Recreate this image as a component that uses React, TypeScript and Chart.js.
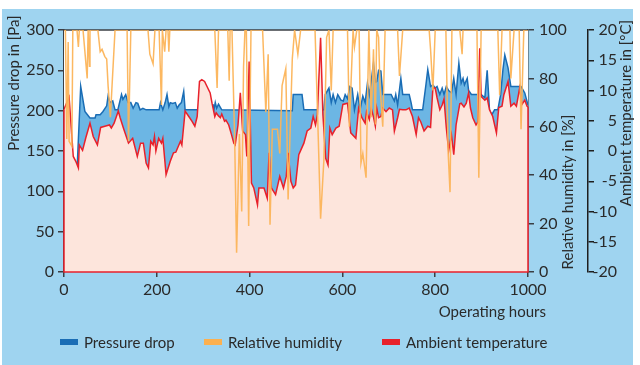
import React, { useEffect, useRef } from "react";
import { Chart, registerables } from "chart.js";

Chart.register(...registerables);

// ---------- data ----------
const seriesNames = ["Pressure drop", "Relative humidity", "Ambient temperature"];
const xTitle = "Operating hours";
const yPressureTitle = "Pressure drop in [Pa]";
const yHumidityTitle = "Relative humidity in [%]";
const yTemperatureTitle = "Ambient temperature in [°C]";

const pressureHours = [
  0, 28, 36, 45, 56, 67, 69, 78, 84, 92, 95, 99, 105, 110, 116, 124, 127, 133, 138, 144,
  149, 155, 159, 164, 170, 177, 190, 205, 208, 213, 218, 222, 226, 229, 234, 240, 244, 248, 253, 258,
  261, 319, 321, 323, 326, 329, 333, 336, 340, 492, 494, 513, 517, 560, 563, 571, 576, 580, 585, 590,
  597, 602, 606, 611, 616, 621, 626, 633, 638, 644, 649, 654, 658, 662, 667, 671, 674, 678, 683, 687,
  694, 705, 712, 715, 719, 726, 730, 744, 748, 751, 773, 780, 784, 790, 795, 800, 804, 810, 815, 819,
  824, 829, 835, 840, 845, 851, 856, 860, 863, 869, 872, 878, 892, 899, 907, 912, 917, 922, 928, 935,
  941, 946, 950, 957, 963, 978, 985, 993, 1000,
];
const pressureValues = [
  140, 125, 230, 199, 191, 191, 195, 195, 199, 206, 218, 210, 212, 201, 201, 220, 214, 220, 210, 210,
  203, 210, 209, 201, 203, 201, 201, 201, 210, 201, 210, 220, 205, 210, 209, 210, 203, 207, 210, 224,
  201, 201, 208, 201, 210, 203, 208, 205, 201, 200, 220, 220, 201, 201, 220, 228, 210, 220, 210, 220,
  213, 212, 220, 215, 230, 228, 201, 220, 201, 218, 210, 234, 220, 236, 259, 235, 236, 250, 249, 220,
  220, 220, 212, 220, 207, 240, 220, 220, 210, 201, 201, 232, 251, 230, 232, 228, 230, 220, 228, 220,
  230, 225, 222, 240, 220, 259, 234, 240, 232, 240, 225, 220, 220, 220, 216, 250, 201, 195, 201, 201,
  220, 251, 269, 253, 230, 230, 230, 222, 207,
];

const humidityHours = [
  0, 3, 6, 9, 11, 17, 19,
  28, 31, 33,
  41, 50, 52, 55, 56,
  73, 78, 82, 88, 92, 95, 100, 103, 110,
  136, 139, 144,
  181, 185, 192, 196,
  205, 210, 212, 217, 220, 224, 226, 228,
  325, 330, 333,
  353, 356, 358,
  362, 368, 372, 378, 383, 387, 390,
  393, 398, 403,
  428, 435, 440, 444, 449, 460, 465, 470, 478, 483, 492, 497, 504, 510,
  541, 547, 553, 560, 566, 571, 576, 580,
  611, 615, 623, 626, 631,
  636, 640, 644, 651, 657, 662, 667, 671, 674, 678, 681, 687, 692,
  719, 723, 730,
  787, 790, 795, 800,
  823, 828, 832, 836,
  853, 858, 860,
  890, 894, 899,
  935, 939, 944,
  961, 963, 970,
  981, 985, 991, 1000,
];
const humidityValues = [
  100, 100, 55, 95, 54, 52, 100,
  100, 93, 100,
  100, 80, 100, 85, 100,
  100, 91, 92, 89, 88, 77, 64, 75, 100,
  100, 54, 100,
  100, 90, 86, 100,
  100, 69, 100, 91, 100, 100, 91, 100,
  100, 76, 100,
  100, 79, 100,
  100, 53, 8, 57, 25, 85, 100,
  100, 19, 100,
  100, 66, 90, 19.5, 59, 59, 49, 77, 84, 30, 88, 100, 90, 100,
  100, 62, 22, 46, 97, 100, 75, 100,
  100, 60, 100, 93, 100,
  100, 45, 49, 39, 100, 64, 92, 61, 100, 97, 77, 60, 100,
  100, 81, 100,
  100, 92, 75, 100,
  100, 49, 33, 100,
  100, 90, 100,
  100, 39, 100,
  100, 73, 100,
  100, 80, 100,
  100, 59, 100, 100,
];

const temperatureHours = [
  0, 11, 20, 26, 31, 33, 40, 47, 56, 63,
  72, 79, 88, 98, 102, 108, 117, 121, 128, 139,
  148, 158, 165, 171, 177, 182, 187, 192, 195, 198,
  204, 210, 213, 220, 229, 236, 241, 251, 254, 261,
  269, 276, 282, 287, 292, 297, 303, 308, 315, 319,
  325, 328, 333, 337, 340, 346, 349, 355, 361, 366,
  369, 375, 380, 385, 391, 394, 399, 404, 409, 417,
  420, 431, 438, 442, 447, 456, 465, 473, 479, 483,
  489, 494, 499, 506, 517, 524, 532, 537, 542, 546,
  553, 558, 564, 569, 573, 578, 586, 593, 601, 611,
  618, 629, 635, 642, 649, 652, 658, 662, 667, 671,
  674, 678, 683, 687, 694, 701, 708, 712, 719, 723,
  730, 737, 744, 751, 759, 764, 769, 776, 784, 790,
  795, 800, 804, 810, 815, 819, 824, 829, 835, 840,
  845, 853, 856, 862, 867, 872, 876, 881, 888, 892,
  896, 899, 907, 912, 917, 924, 932, 937, 944, 948,
  957, 963, 970, 975, 982, 987, 993, 998, 1000,
];
const temperatureValues = [
  6.9, 8.9, -0.9, -1.8, -2.8, 1.0, 0.1, 2.2, 4.6, 2.4,
  1.0, 3.9, 4.1, 4.3, 3.8, 4.6, 6.6, 5.5, 3.8, 1.3,
  2.1, -0.9, 1.3, 1.3, -2, -2.8, 1.6, 1.0, 2.4, 0,
  2.1, 1.3, 2.1, -3.9, -1.7, -0.3, -0.2, 1.6, 1.0, 6.6,
  5.7, 4.9, 4.1, 5.7, 11.5, 11.8, 11.5, 10.7, 9.6, 7.9,
  5.7, 6.3, 5.8, 5.5, 6.1, 4.9, 5.1, 4.3, 2.7, 1.3,
  1.0, 4.3, 9.6, 3.3, 2.7, -0.9, 14.8, -5.3, -6.1, -8.9,
  -6.1, -6.1, -7.8, -0.3, -6.1, -7.2, -4.2, -6.1, -4.2, -0.3,
  -5, -6.1, -5.6, -0.6, 1.3, 3.3, 3.8, 5.7, 4.3, 6.0,
  18.7, 6.0, -1.2, -2.3, 3.8, 2.7, 3.8, 4.1, 7.7, 7.9,
  3.0, 2.1, 7.1, 5.5, 4.6, 6.5, 5.2, 7.1, 5.6, 4.1,
  7.1, 5.5, 5.7, 7.1, 6.5, 7.1, 6.8, 3.3, 5.5, 6.9,
  6.8, 6.8, 7.1, 5.7, 2.7, 5.5, 4.8, 3.3, 4.1, 3.9,
  10.4, 10.4, 8.8, 6.8, 7.6, 8.6, 3.8, 0, 2.7, -0.6,
  4.3, 7.8, 7.9, 7.3, 7.9, 9.6, 7.1, 5.5, 4.3, 4.8,
  17, 9.0, 8.4, 8.8, 6.8, 5.7, 3.0, 7.2, 7.4, 9.3,
  11.5, 7.4, 7.9, 7.4, 10.4, 7.7, 8.4, 7.4, 7.3,
];

// ---------- style ----------
const FONT = "Lato, 'DejaVu Sans', sans-serif";
const BG = "#9fd4f0";
const TEXT = "#2a2a2a";
const AXIS = "#3b3f45";
const BLUE = "#1a6db5";
const BLUE_FILL = "#6cb6e4";
const ORANGE = "rgba(252,180,88,0.95)";
const RED = "#e8212b";
const PEACH = "#fde5dc";

const toPoints = (xs: number[], ys: number[]) => xs.map((x, i) => ({ x, y: ys[i] }));
const plainLabel = (v: any) => String(v);

const framePlugin = {
  id: "frame",
  beforeDatasetsDraw(chart: any) {
    const { ctx, chartArea: a } = chart;
    ctx.save();
    ctx.fillStyle = "#ffffff";
    ctx.fillRect(a.left, a.top, a.right - a.left, a.bottom - a.top);
    ctx.strokeStyle = AXIS;
    ctx.lineWidth = 1.5;
    ctx.beginPath();
    ctx.moveTo(a.left, a.top);
    ctx.lineTo(a.right, a.top);
    ctx.stroke();
    ctx.restore();
  },
  afterDatasetDraw(chart: any, args: any) {
    if (args.index !== 2) return;
    const { ctx, chartArea: a } = chart;
    const pts = chart.getDatasetMeta(2).data;
    if (!pts.length) return;
    const first = pts[0];
    const last = pts[pts.length - 1];
    ctx.save();
    ctx.strokeStyle = RED;
    ctx.lineWidth = 1.5;
    ctx.beginPath();
    ctx.moveTo(first.x, first.y);
    ctx.lineTo(first.x, a.bottom);
    ctx.lineTo(last.x, a.bottom);
    ctx.lineTo(last.x, last.y);
    ctx.stroke();
    ctx.restore();
  },
  afterDraw(chart: any) {
    const { ctx } = chart;
    ctx.save();
    ctx.fillStyle = TEXT;
    ctx.font = `15px ${FONT}`;
    ctx.textBaseline = "middle";
    const rot = (t: string, x: number, y: number) => {
      ctx.save();
      ctx.translate(x, y);
      ctx.rotate(-Math.PI / 2);
      ctx.textAlign = "center";
      ctx.fillText(t, 0, 0);
      ctx.restore();
    };
    rot(yPressureTitle, 14, 83);
    rot(yHumidityTitle, 568, 192);
    rot(yTemperatureTitle, 626, 113);
    ctx.textAlign = "right";
    ctx.fillText(xTitle, 546, 312);
    ctx.restore();
  },
};

const tickFont = { family: FONT, size: 16 };

export default function App() {
  const canvasRef = useRef<HTMLCanvasElement | null>(null);

  useEffect(() => {
    document.body.style.margin = "0";
    const canvas = canvasRef.current;
    if (!canvas) return;
    const chart = new Chart(canvas, {
      type: "line",
      data: {
        datasets: [
          {
            label: seriesNames[0],
            data: toPoints(pressureHours, pressureValues),
            yAxisID: "y",
            borderColor: BLUE,
            backgroundColor: BLUE_FILL,
            borderWidth: 1.5,
            fill: "start",
            pointRadius: 0,
            tension: 0,
            order: 3,
          },
          {
            label: seriesNames[1],
            data: toPoints(humidityHours, humidityValues),
            yAxisID: "yH",
            borderColor: ORANGE,
            backgroundColor: ORANGE,
            borderWidth: 1.5,
            fill: false,
            pointRadius: 0,
            tension: 0,
            order: 1,
          },
          {
            label: seriesNames[2],
            data: toPoints(temperatureHours, temperatureValues),
            yAxisID: "yT",
            borderColor: RED,
            backgroundColor: PEACH,
            borderWidth: 1.5,
            fill: "start",
            pointRadius: 0,
            tension: 0,
            order: 2,
          },
        ],
      },
      options: {
        responsive: false,
        animation: false,
        devicePixelRatio: 1,
        layout: { padding: { top: 30, left: 0, right: 23, bottom: 53 } },
        plugins: { legend: { display: false }, tooltip: { enabled: false } },
        scales: {
          x: {
            type: "linear",
            min: 0,
            max: 1000,
            position: "bottom",
            ticks: { stepSize: 200, font: tickFont, color: TEXT, padding: 3, maxRotation: 0, callback: plainLabel },
            grid: { drawOnChartArea: false, drawTicks: true, tickLength: 5, color: AXIS, lineWidth: 1.5 },
            border: { display: false },
            afterFit: (s: any) => {
              s.height = 40;
            },
          },
          y: {
            position: "left",
            min: 0,
            max: 300,
            ticks: { stepSize: 50, font: tickFont, color: TEXT, padding: 4, callback: plainLabel },
            grid: { drawOnChartArea: false, tickLength: 6, color: AXIS, lineWidth: 1.5 },
            border: { display: true, color: AXIS, width: 1.5 },
            afterFit: (s: any) => {
              s.width = 64;
            },
          },
          yH: {
            position: "right",
            min: 0,
            max: 100,
            ticks: { stepSize: 20, font: tickFont, color: TEXT, padding: 5, callback: plainLabel },
            grid: { drawOnChartArea: false, tickLength: 6, color: AXIS, lineWidth: 1.5 },
            border: { display: true, color: AXIS, width: 1.5 },
            afterFit: (s: any) => {
              s.width = 60;
            },
          },
          yT: {
            position: "right",
            min: -20,
            max: 20,
            ticks: { stepSize: 5, font: tickFont, color: TEXT, padding: 3, crossAlign: "far", callback: plainLabel },
            grid: { drawOnChartArea: false, tickLength: 6, color: "#1e1e1e", lineWidth: 1.5 },
            border: { display: true, color: "#1e1e1e", width: 1.5 },
            afterFit: (s: any) => {
              s.width = 29;
            },
          },
        },
      },
      plugins: [framePlugin],
    });
    return () => chart.destroy();
  }, []);

  const legendColors = [BLUE, "#fbb050", RED];
  const legendLeft = [60, 204, 382];

  return (
    <div style={{ position: "relative", width: 640, height: 365, background: "#ffffff", fontFamily: FONT, overflow: "hidden" }}>
      <div style={{ position: "absolute", left: 2, top: 9, width: 631, height: 356, background: BG }} />
      <canvas ref={canvasRef} width={640} height={365} style={{ position: "absolute", left: 0, top: 0, width: 640, height: 365 }} />
      {seriesNames.map((name, i) => (
        <div
          key={name}
          style={{
            position: "absolute",
            left: legendLeft[i],
            top: 333,
            height: 18,
            display: "flex",
            alignItems: "center",
            color: TEXT,
            fontSize: 15,
            whiteSpace: "nowrap",
          }}
        >
          <span style={{ display: "inline-block", width: 18, height: 6, background: legendColors[i], marginRight: 6 }} />
          <span>{name}</span>
        </div>
      ))}
    </div>
  );
}
